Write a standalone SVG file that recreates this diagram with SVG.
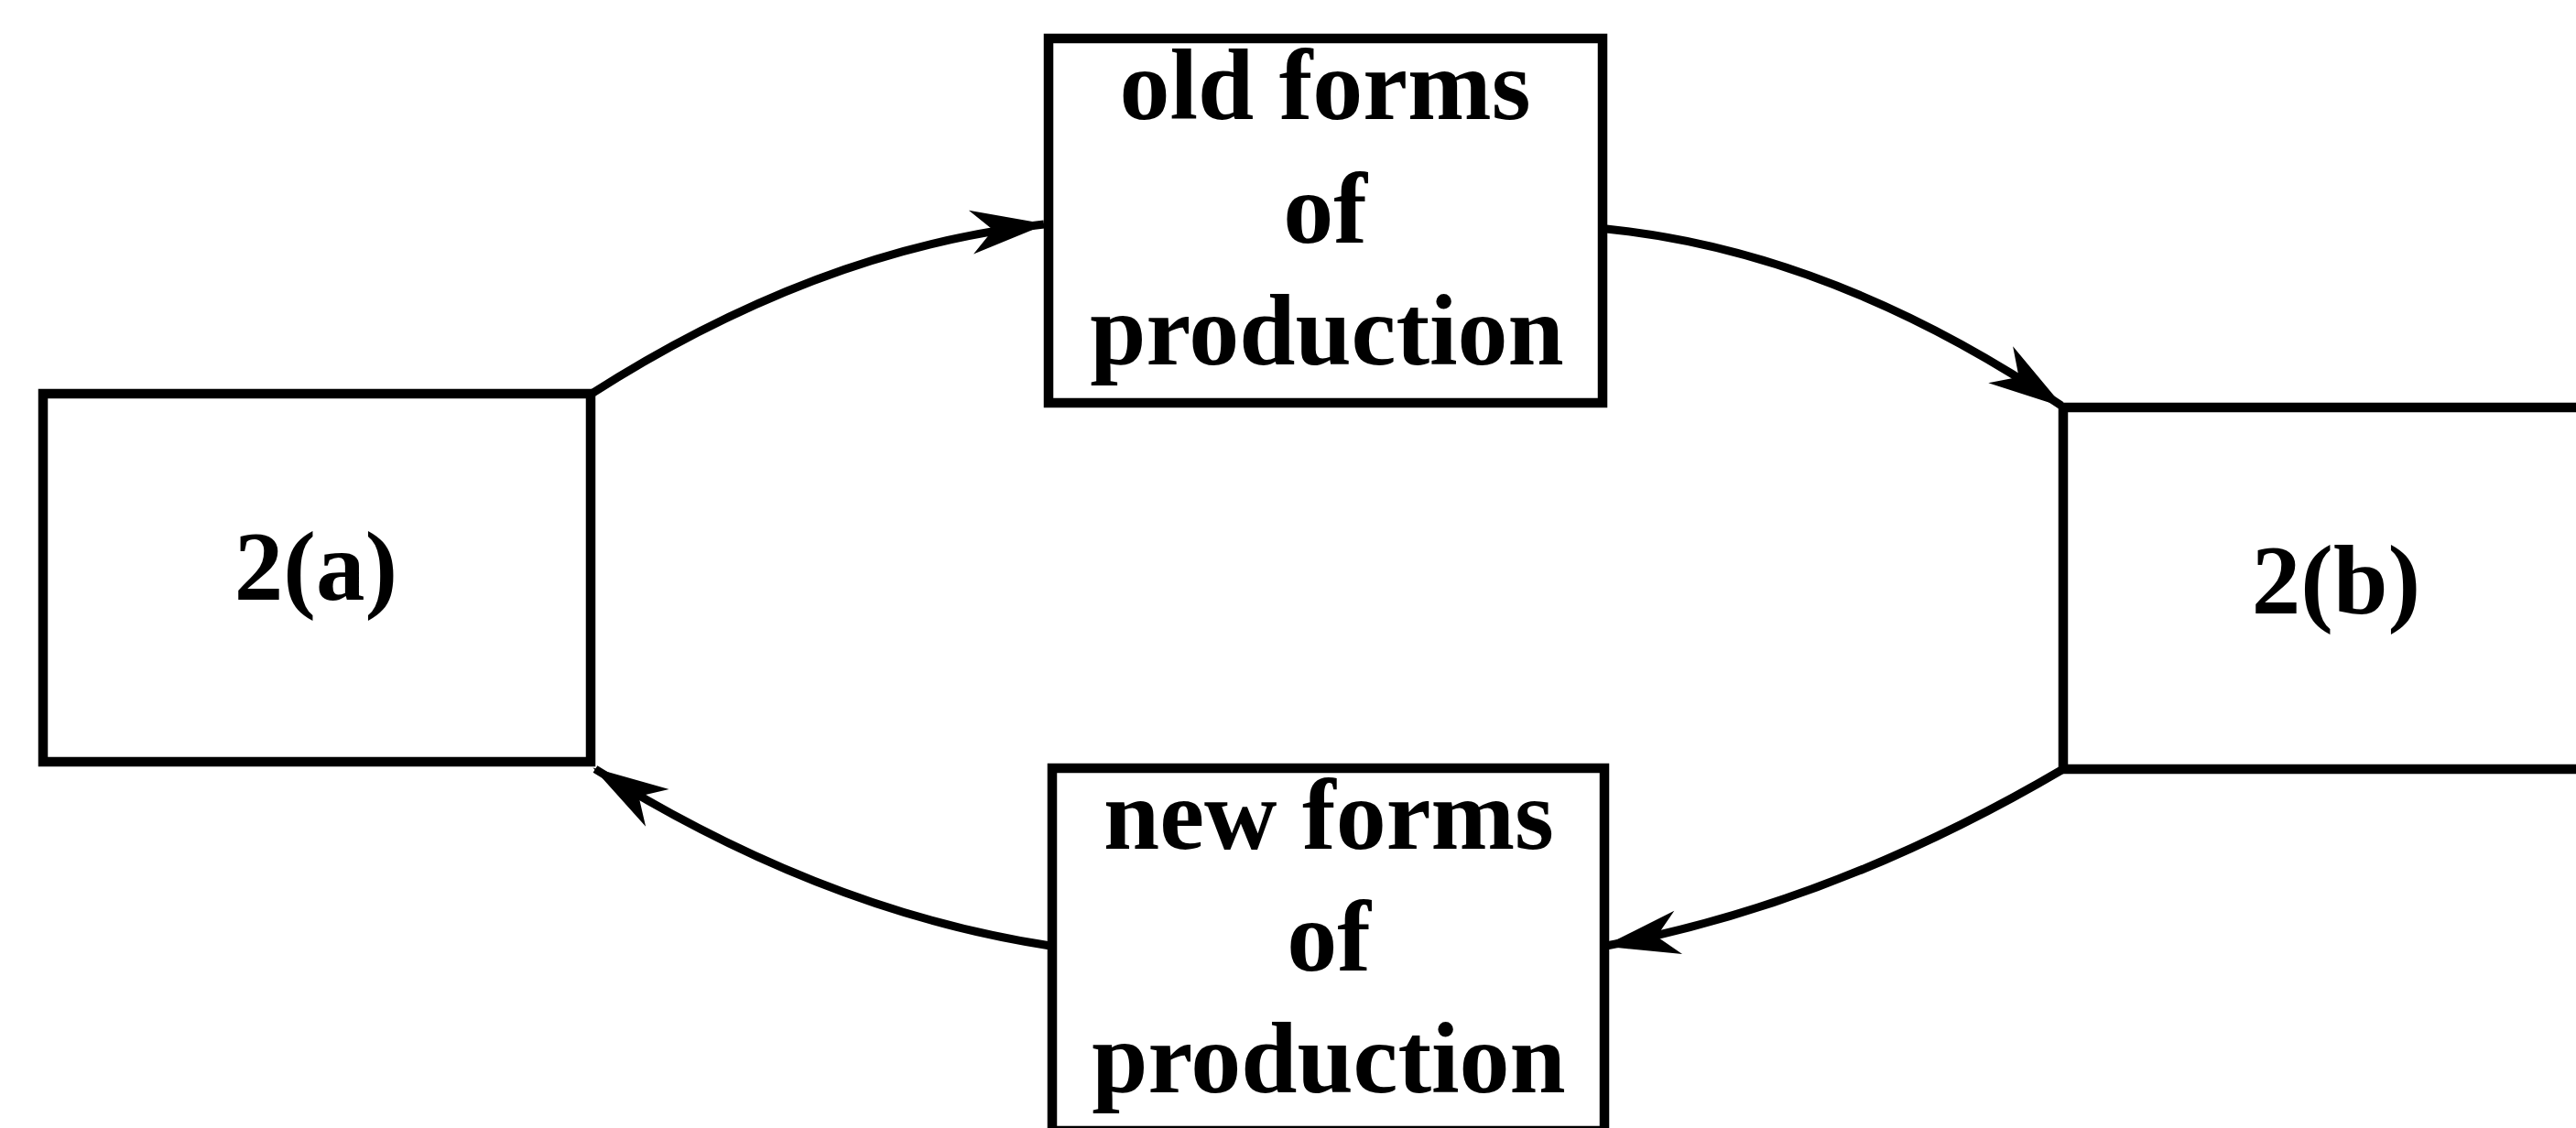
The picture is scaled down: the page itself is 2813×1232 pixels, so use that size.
<svg xmlns="http://www.w3.org/2000/svg" width="2813" height="1232" viewBox="0 0 2813 1232">
<style>
.box{fill:#fff;stroke:#000;stroke-width:10.5}
.lbl{font-family:"Liberation Serif","Times New Roman",serif;font-weight:bold;font-size:110px;fill:#000;text-anchor:middle}
.big{font-size:107px}
.conn{fill:none;stroke:#000;stroke-width:9;marker-end:url(#arr)}
</style>
<defs>
<marker id="arr" markerUnits="userSpaceOnUse" markerWidth="100" markerHeight="60" refX="0" refY="0" orient="auto" overflow="visible" viewBox="-100 -30 100 60">
<path d="M3,0 L-80,-24 L-56,0 L-80,24 Z" fill="#000"/>
</marker>
</defs>
<rect width="2813" height="1232" fill="#fff"/>
<g id="connectors">
<path class="conn" d="M646,430 Q893,272 1140,245"/>
<path class="conn" d="M1754,250 Q2002,275 2251,443"/>
<path class="conn" d="M2253,840 Q2003,987 1754,1033"/>
<path class="conn" d="M1147,1033 Q898,995 650,840"/>
</g>
<g id="node-2a">
<rect class="box" x="47" y="430" width="598" height="402"/>
<text class="lbl big" x="345" y="655">2(a)</text>
</g>
<g id="node-old">
<rect class="box" x="1145" y="42" width="605" height="398"/>
<text class="lbl" x="1447" y="130">old forms</text>
<text class="lbl" x="1447" y="265">of</text>
<text class="lbl" x="1449" y="398">production</text>
</g>
<g id="node-2b">
<rect class="box" x="2253" y="445" width="600" height="395"/>
<text class="lbl big" x="2551" y="670">2(b)</text>
</g>
<g id="node-new">
<rect class="box" x="1149" y="839" width="603" height="396"/>
<text class="lbl" x="1451" y="927">new forms</text>
<text class="lbl" x="1451" y="1060">of</text>
<text class="lbl" x="1451" y="1193">production</text>
</g>
</svg>
